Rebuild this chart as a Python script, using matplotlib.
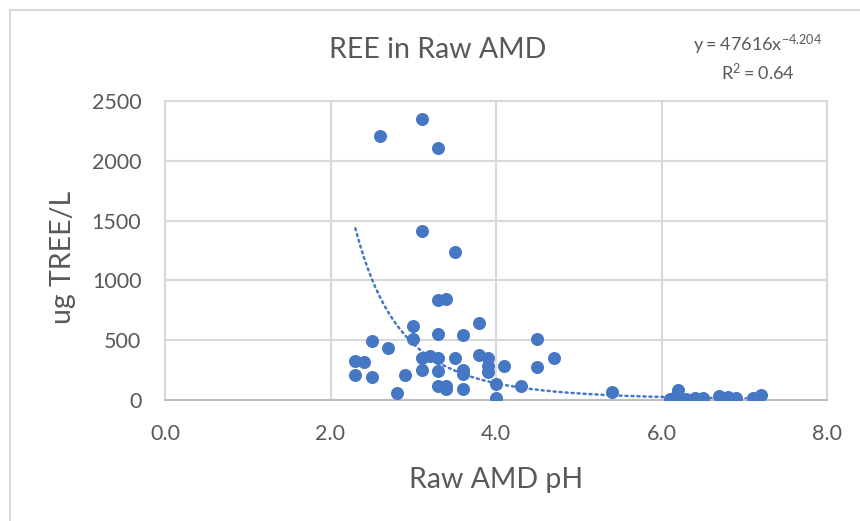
import matplotlib.pyplot as plt
import numpy as np
from matplotlib.lines import Line2D

plt.rcParams['font.family'] = ['Lato', 'DejaVu Sans']
plt.rcParams['mathtext.fontset'] = 'custom'
plt.rcParams['mathtext.rm'] = 'Lato'

# raw AMD samples: pH vs total REE (ug/L)
ph = [2.3, 2.3, 2.4, 2.5, 2.5, 2.6, 2.7, 2.8, 2.9, 3.0, 3.0,
      3.1, 3.1, 3.1, 3.1, 3.2, 3.3, 3.3, 3.3, 3.3, 3.3, 3.3,
      3.4, 3.4, 3.4, 3.5, 3.5, 3.6, 3.6, 3.6, 3.6, 3.8, 3.8,
      3.9, 3.9, 3.9, 4.0, 4.0, 4.1, 4.3, 4.5, 4.5, 4.7, 5.4,
      6.1, 6.15, 6.2, 6.2, 6.3, 6.4, 6.5, 6.5, 6.7, 6.8, 6.9, 7.1, 7.2]
tree = [330, 210, 320, 495, 195, 2210, 435, 55, 210, 620, 510,
        2350, 1410, 355, 255, 370, 2110, 835, 555, 355, 240, 115,
        845, 115, 90, 1240, 355, 545, 255, 215, 90, 645, 380,
        355, 285, 230, 130, 20, 285, 115, 510, 280, 355, 70,
        5, 20, 85, 15, 10, 15, 20, 10, 35, 25, 15, 15, 40]

# power trendline as reported
coef_a = 47616
coef_b = -4.204
r_squared = 0.64

x_ticks = [0, 2, 4, 6, 8]
y_ticks = [0, 500, 1000, 1500, 2000, 2500]

blue = '#4677C4'
text_gray = '#595959'
grid_gray = '#D9D9D9'

fig = plt.figure(figsize=(8.6, 5.21), dpi=100)
ax = fig.add_axes([165 / 860, 1 - 400 / 521, (827 - 165) / 860, (400 - 101) / 521])

ax.scatter(ph, tree, s=88, color=blue, zorder=3, linewidths=0)

xs = np.linspace(min(ph), max(ph), 200)
ax.plot(xs, coef_a * xs ** coef_b, color=blue, lw=1.8,
        linestyle=(0, (0.8, 1.6)), dash_capstyle='round', zorder=2)

ax.set_xlim(0, 8)
ax.set_ylim(0, 2500)
ax.set_xticks(x_ticks)
ax.set_yticks(y_ticks)
ax.set_xticklabels([f'{v:.1f}' for v in x_ticks])
ax.tick_params(length=0, labelsize=15.5, labelcolor=text_gray)
ax.tick_params(axis='x', pad=17)
ax.tick_params(axis='y', pad=17)
ax.grid(True, color=grid_gray, lw=1.5, zorder=0)
ax.set_axisbelow(True)
for side in ['left', 'top', 'right']:
    ax.spines[side].set_color(grid_gray)
    ax.spines[side].set_linewidth(1.5)
ax.spines['bottom'].set_color('#BFBFBF')
ax.spines['bottom'].set_linewidth(1.5)

fig.text(496 / 860, 1 - 480 / 521, 'Raw AMD pH', ha='center', va='center',
         fontsize=20.5, color=text_gray)
fig.text(63 / 860, 1 - 257 / 521, 'ug TREE/L', ha='center', va='center',
         rotation=90, fontsize=20.5, color=text_gray)
fig.text(438 / 860, 1 - 50 / 521, 'REE in Raw AMD', ha='center', va='center',
         fontsize=20.5, color=text_gray)

fig.text(758 / 860, 1 - 45 / 521,
         r'$\mathregular{y = %dx^{%.3f}}$' % (coef_a, coef_b),
         ha='center', va='center', fontsize=13, color=text_gray)
fig.text(758 / 860, 1 - 72 / 521,
         r'$\mathregular{R^2 = %.2f}$' % r_squared,
         ha='center', va='center', fontsize=13, color=text_gray)

# chart area border (top and left edges)
fig.add_artist(Line2D([10 / 860, 1], [1 - 10 / 521, 1 - 10 / 521],
                      color=grid_gray, lw=1.5, transform=fig.transFigure))
fig.add_artist(Line2D([10 / 860, 10 / 860], [0, 1 - 10 / 521],
                      color=grid_gray, lw=1.5, transform=fig.transFigure))

fig.savefig('out.png', dpi=100)
